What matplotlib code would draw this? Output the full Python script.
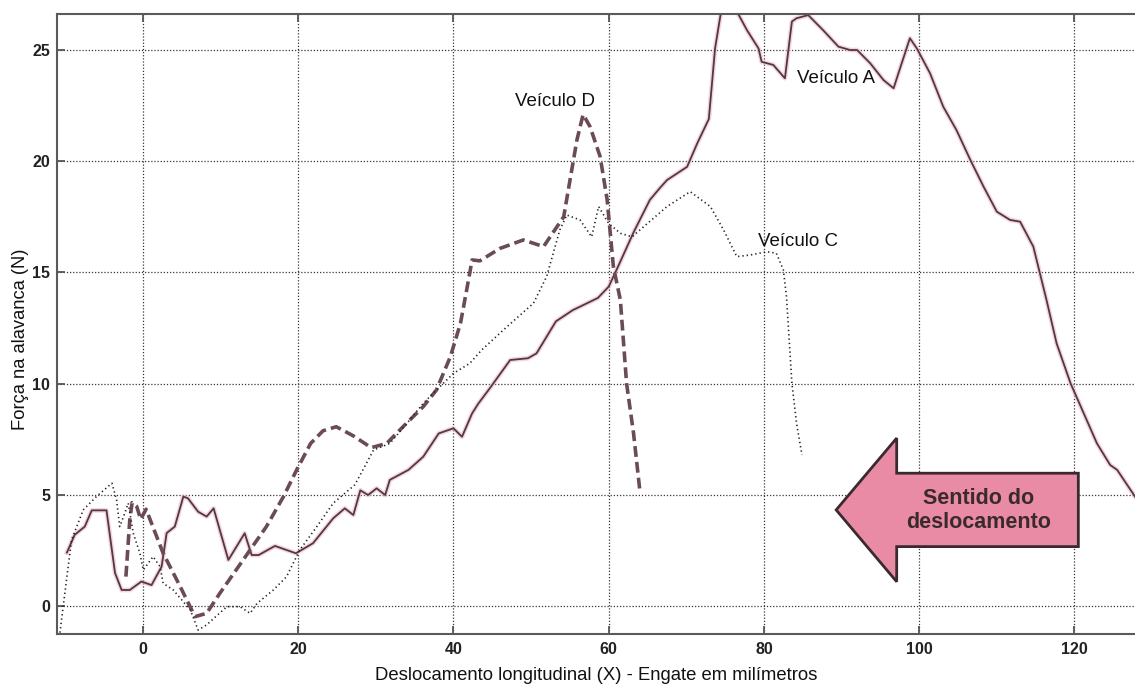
import matplotlib
matplotlib.use("Agg")
import matplotlib.pyplot as plt
from matplotlib.patches import Polygon

plt.rcParams['font.family'] = ['Liberation Sans', 'DejaVu Sans']

# Veículo A (solid)
a_x = [-9.8, -8.8, -7.5, -6.6, -4.7, -3.6, -2.75, -1.7, -0.2, 1.1, 2.4, 3.05, 4.1, 5.2, 5.8,
       7.1, 8.2, 9.1, 11.0, 13.1, 14.0, 14.9, 17.0, 19.7, 21.9, 24.5, 26.0, 27.1, 28.0, 29.0,
       30.1, 31.2, 31.8, 34.2, 36.1, 38.1, 40.0, 41.1, 42.4, 43.2, 44.7, 47.3, 49.6, 50.7,
       53.2, 55.4, 56.3, 58.6, 60.0, 61.2, 63.2, 65.3, 66.6, 67.5, 70.1, 71.4, 72.9, 73.7,
       74.6, 76.1, 77.8, 79.3, 79.7, 81.2, 82.7, 83.6, 84.2, 85.7, 87.6, 89.6, 91.1, 92.0,
       93.7, 95.4, 96.7, 97.6, 98.8, 99.7, 101.4, 103.1, 104.8, 106.6, 108.3, 110.0, 111.7,
       113.0, 114.7, 116.4, 117.7, 119.5, 121.2, 122.9, 124.6, 125.5, 127.8]
a_y = [2.4, 3.2, 3.57, 4.3, 4.3, 1.48, 0.72, 0.72, 1.1, 0.94, 1.77, 3.28, 3.57, 4.92, 4.84,
       4.24, 4.02, 4.39, 2.07, 3.27, 2.29, 2.29, 2.7, 2.37, 2.82, 3.94, 4.39, 4.09, 5.2, 4.99,
       5.29, 4.99, 5.67, 6.12, 6.71, 7.76, 7.99, 7.61, 8.66, 9.1, 9.8, 11.06, 11.14, 11.36,
       12.8, 13.31, 13.46, 13.85, 14.36, 15.26, 16.8, 18.26, 18.8, 19.15, 19.75, 20.8, 21.9,
       25.07, 27.0, 27.0, 25.9, 25.07, 24.47, 24.33, 23.73, 26.28, 26.43, 26.57, 25.9, 25.15,
       25.0, 25.0, 24.4, 23.65, 23.28, 24.25, 25.53, 25.07, 23.95, 22.45, 21.4, 20.05, 18.85,
       17.73, 17.36, 17.28, 16.16, 13.76, 11.81, 10.01, 8.66, 7.31, 6.34, 6.12, 4.92]

# Veículo D (dashed)
d_x = [-2.2, -1.7, -1.4, -0.8, -0.3, 0.4, 2.6, 4.8, 6.7, 8.2, 9.9, 12.9, 15.9, 18.1, 19.8,
       21.6, 23.2, 24.9, 27.1, 29.4, 31.4, 33.5, 36.1, 37.8, 39.6, 40.9, 41.7, 42.4, 43.4,
       46.0, 49.0, 51.6, 54.2, 55.9, 56.7, 57.6, 58.9, 59.8, 60.6, 61.5, 62.3, 63.2, 64.0]
d_y = [1.32, 3.87, 4.65, 4.47, 3.9, 4.35, 2.37, 0.87, -0.48, -0.33, 0.57, 2.07, 3.57, 4.92,
       6.12, 7.31, 7.88, 8.06, 7.65, 7.12, 7.31, 8.06, 8.96, 9.71, 11.21, 12.71, 14.21, 15.56,
       15.52, 16.08, 16.46, 16.16, 17.5, 20.95, 22.1, 21.55, 20.2, 18.26, 15.26, 13.76, 10.01,
       7.76, 5.22]

# Veículo C (dotted)
c_x = [-10.7, -9.8, -9.2, -7.7, -6.0, -4.0, -3.4, -3.0, -2.5, -1.9, -1.25, -0.4, 0.04, 1.3,
       2.2, 2.6, 3.9, 6.1, 7.1, 8.2, 10.8, 12.5, 13.8, 14.7, 16.8, 18.5, 20.2, 22.4, 24.5,
       27.3, 29.7, 31.8, 34.0, 36.1, 37.8, 40.0, 42.1, 43.6, 46.9, 50.3, 52.0, 53.7, 54.6,
       56.3, 57.8, 58.7, 60.0, 61.5, 63.0, 67.5, 70.5, 73.1, 74.8, 76.5, 78.2, 80.4, 81.6,
       82.5, 82.9, 83.6, 84.2, 84.9]
c_y = [-1.2, 1.32, 2.97, 4.32, 4.92, 5.52, 4.77, 3.57, 4.02, 4.62, 3.27, 2.37, 1.62, 2.22,
       1.77, 1.02, 0.72, -0.18, -1.08, -0.85, -0.03, -0.03, -0.33, 0.12, 0.72, 1.32, 2.52,
       3.57, 4.62, 5.45, 7.01, 7.31, 8.21, 9.11, 9.71, 10.46, 10.91, 11.5, 12.56, 13.61,
       14.81, 16.91, 17.58, 17.36, 16.6, 17.96, 17.2, 16.76, 16.6, 17.96, 18.63, 17.96, 16.91,
       15.71, 15.78, 15.93, 15.86, 15.11, 13.91, 10.01, 8.21, 6.79]

x_ticks = [0, 20, 40, 60, 80, 100, 120]
y_ticks = [0, 5, 10, 15, 20, 25]

fig = plt.figure(figsize=(11.35, 6.86), dpi=100)
ax = fig.add_axes([0.0502, 0.0758, 0.9498, 0.9038])
ax.set_xlim(-11.08, 127.8)
ax.set_ylim(-1.26, 26.62)

ax.set_xticks(x_ticks)
ax.set_yticks(y_ticks)
ax.grid(True, linestyle=(0, (1, 1.5)), color='#3a3436', linewidth=0.9)
ax.set_axisbelow(True)

ax.tick_params(axis='x', direction='in', top=True, bottom=True, length=6, width=1.3,
               color='#555555', labelsize=11.5, pad=6)
ax.tick_params(axis='y', direction='in', left=True, right=False, length=6, width=1.3,
               color='#555555', labelsize=11.5, pad=5)
for lab in ax.get_xticklabels() + ax.get_yticklabels():
    lab.set_fontweight('bold')
    lab.set_color('#222222')

ax.spines['right'].set_visible(False)
for side in ('left', 'bottom', 'top'):
    ax.spines[side].set_color('#5a5a5a')
    ax.spines[side].set_linewidth(1.5)

# curves
ax.plot(a_x, a_y, color='#f2b8c8', linewidth=3.4, alpha=0.6, solid_joinstyle='round')
ax.plot(a_x, a_y, color='#4e3a42', linewidth=1.3)
ax.plot(d_x, d_y, color='#6b4b57', linewidth=2.6, dashes=(3.0, 1.4))
ax.plot(c_x, c_y, color='#2a2226', linewidth=1.2, dashes=(0.8, 1.8))

ax.text(84.3, 23.7, 'Veículo A', fontsize=13.5, color='#111111', va='center', ha='left')
ax.text(79.2, 16.4, 'Veículo C', fontsize=13.5, color='#111111', va='center', ha='left')
ax.text(47.9, 22.7, 'Veículo D', fontsize=13.5, color='#111111', va='center', ha='left')

# direction arrow
arrow = Polygon([(89.3, 4.32), (97.1, 7.55), (97.1, 5.97), (120.5, 5.97),
                 (120.5, 2.67), (97.1, 2.67), (97.1, 1.09)],
                closed=True, facecolor='#e98ba4', edgecolor='#3a2a30', linewidth=2.0, zorder=4)
ax.add_patch(arrow)
ax.text(107.7, 4.3, 'Sentido do\ndeslocamento', fontsize=15.5, fontweight='bold',
        color='#3a2a2e', ha='center', va='center', linespacing=1.15, zorder=5)

ax.set_xlabel('Deslocamento longitudinal (X) - Engate em milímetros', fontsize=13.3,
              color='#111111', labelpad=7)
fig.text(0.018, 0.506, 'Força na alavanca (N)', rotation=90, fontsize=13.2,
         color='#111111', ha='center', va='center')

fig.savefig('out.png', dpi=100)
